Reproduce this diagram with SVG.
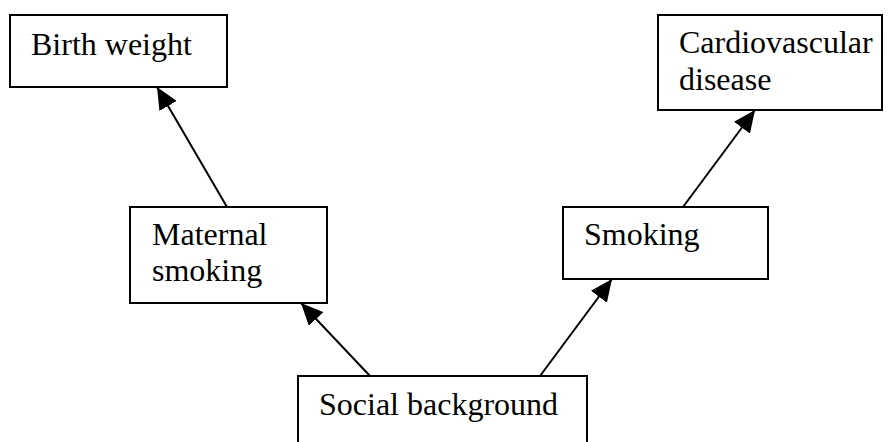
<svg xmlns="http://www.w3.org/2000/svg" width="890" height="442" viewBox="0 0 890 442">
<style>
.box{fill:#fff;stroke:#000;stroke-width:2}
.t{font-family:"Liberation Serif","Times New Roman",serif;font-size:32px;fill:#000}
.c{stroke:#000;stroke-width:2;fill:none;marker-end:url(#ah)}
</style>
<defs>
<marker id="ah" markerUnits="userSpaceOnUse" markerWidth="24" markerHeight="20" refX="22" refY="10" orient="auto">
<path d="M0,0 L22,10 L0,20 Z" fill="#000"/>
</marker>
</defs>
<rect width="890" height="442" fill="#fff"/>
<g id="birth-weight"><rect class="box" x="10" y="15" width="217" height="72"/><text class="t" x="31" y="55">Birth weight</text></g>
<g id="cardiovascular"><rect class="box" x="658" y="15" width="224" height="95"/><text class="t" x="679" y="53">Cardiovascular</text><text class="t" x="679" y="90">disease</text></g>
<g id="maternal-smoking"><rect class="box" x="130" y="207" width="197" height="96"/><text class="t" x="152" y="245">Maternal</text><text class="t" x="152" y="281">smoking</text></g>
<g id="smoking"><rect class="box" x="563" y="207" width="205" height="72"/><text class="t" x="584" y="245">Smoking</text></g>
<g id="social-background"><rect class="box" x="298" y="376" width="289" height="80"/><text class="t" x="319" y="415">Social background</text></g>
<g id="connectors">
<line class="c" x1="227" y1="207" x2="157" y2="87"/>
<line class="c" x1="683" y1="207" x2="755" y2="110"/>
<line class="c" x1="370" y1="376" x2="301" y2="303"/>
<line class="c" x1="540" y1="376" x2="612" y2="279"/>
</g>
</svg>
